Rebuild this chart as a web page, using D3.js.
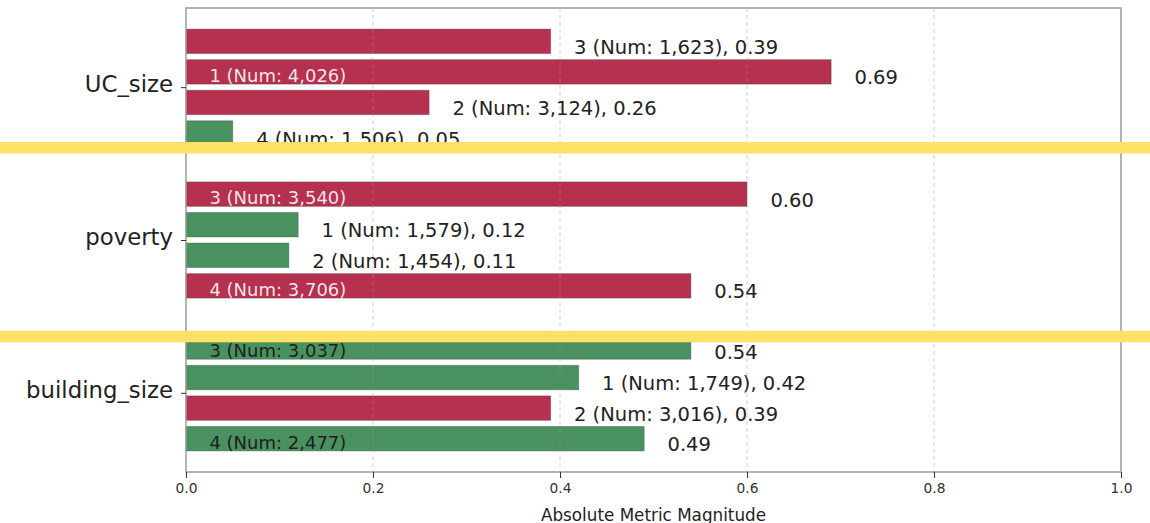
<!DOCTYPE html>
<html>
<head>
<meta charset="utf-8">
<script src="https://cdn.jsdelivr.net/npm/d3@7"></script>
<style>
  body { margin: 0; background: #fff; }
  text { font-family: "DejaVu Sans", sans-serif; }
</style>
</head>
<body>
<svg id="chart" width="1150" height="523"></svg>
<script>
// Features shown as groups, top to bottom
const features = ["UC_size", "poverty", "building_size"];
// Cluster ids of the four bars in each group (top to bottom)
const clusterIds = [[3, 1, 2, 4], [3, 1, 2, 4], [3, 1, 2, 4]];
// Number of members per cluster
const clusterCounts = [[1623, 4026, 3124, 1506], [3540, 1579, 1454, 3706], [3037, 1749, 3016, 2477]];
// Absolute metric magnitude per bar
const magnitudes = [[0.39, 0.69, 0.26, 0.05], [0.60, 0.12, 0.11, 0.54], [0.54, 0.42, 0.39, 0.49]];
// Sign of the underlying metric (neg = red, pos = green)
const signs = [["neg", "neg", "neg", "pos"], ["neg", "pos", "pos", "neg"], ["pos", "pos", "neg", "pos"]];
// X axis ticks
const xTicks = [0, 0.2, 0.4, 0.6, 0.8, 1.0];
// Highlight bands across the figure (in y data units)
const highlightBands = [0.395, 1.63];

const W = 1150, H = 523;
const margin = { left: 186, right: 29, top: 8, bottom: 51 };
const svg = d3.select("#chart");

const x = d3.scaleLinear().domain([0, 1]).range([margin.left, W - margin.right]);
const barStep = 0.2, barH = 0.16;
const y = d3.scaleLinear().domain([-0.518, 2.518]).range([margin.top, H - margin.bottom]);

const colors = { neg: "#b5314f", pos: "#4a9160" };
const insideText = { neg: "rgba(255,255,255,0.88)", pos: "#1e1e1e" };
const fmt = d3.format(",");

// flatten rows
const rows = [];
features.forEach((f, gi) => {
  clusterIds[gi].forEach((id, k) => {
    rows.push({
      gi, k, id,
      count: clusterCounts[gi][k],
      v: magnitudes[gi][k],
      sign: signs[gi][k],
      pos: gi + (k - 1.5) * barStep
    });
  });
});

// bars
svg.append("g").selectAll("rect")
  .data(rows)
  .join("rect")
  .attr("x", x(0))
  .attr("y", d => y(d.pos - barH / 2))
  .attr("width", d => x(d.v) - x(0))
  .attr("height", d => y(d.pos + barH / 2) - y(d.pos - barH / 2))
  .attr("fill", d => colors[d.sign])
  .attr("stroke", "rgba(60,60,60,0.35)")
  .attr("stroke-width", 1);

// vertical dashed grid, drawn over the bars
svg.append("g").selectAll("line")
  .data(xTicks.filter(t => t > 0 && t < 1))
  .join("line")
  .attr("x1", d => x(d)).attr("x2", d => x(d))
  .attr("y1", y.range()[0]).attr("y2", y.range()[1])
  .attr("stroke", "rgba(150,150,150,0.45)").attr("stroke-width", 1)
  .attr("stroke-dasharray", "4,3");

const labels = svg.append("g");
const insideThreshold = 0.45;
rows.forEach(d => {
  const cy = y(d.pos);
  if (d.v > insideThreshold) {
    labels.append("text")
      .attr("x", x(0.025)).attr("y", cy + 10)
      .attr("font-size", 18)
      .attr("fill", insideText[d.sign])
      .text(`${d.id} (Num: ${fmt(d.count)})`);
    labels.append("text")
      .attr("x", x(d.v + 0.025)).attr("y", cy + 12.5)
      .attr("font-size", 19.5)
      .attr("fill", "#222")
      .text(d.v.toFixed(2));
  } else {
    labels.append("text")
      .attr("x", x(d.v + 0.025)).attr("y", cy + 12.5)
      .attr("font-size", 19.5)
      .attr("fill", "#222")
      .text(`${d.id} (Num: ${fmt(d.count)}), ${d.v.toFixed(2)}`);
  }
});

// frame
svg.append("rect")
  .attr("x", x(0)).attr("y", y.range()[0])
  .attr("width", x(1) - x(0)).attr("height", y.range()[1] - y.range()[0])
  .attr("fill", "none").attr("stroke", "#9a9a9a").attr("stroke-width", 1.5);

// x axis
const xAxis = svg.append("g")
  .attr("transform", `translate(0,${y.range()[1]})`)
  .call(d3.axisBottom(x).tickValues(xTicks).tickFormat(d3.format(".1f")).tickSize(6).tickPadding(5));
xAxis.select(".domain").remove();
xAxis.selectAll(".tick line").attr("stroke", "#333").attr("stroke-width", 1);
xAxis.selectAll(".tick text")
  .attr("font-family", "DejaVu Sans").attr("font-size", 13.8).attr("fill", "#333");

// y axis
const yAxis = svg.append("g")
  .attr("transform", `translate(${x(0)},0)`)
  .call(d3.axisLeft(y).tickValues(features.map((_, i) => i)).tickFormat(i => features[i]).tickSize(5).tickPadding(8));
yAxis.select(".domain").remove();
yAxis.selectAll(".tick line").attr("stroke", "#333").attr("stroke-width", 1);
yAxis.selectAll(".tick text")
  .attr("font-family", "DejaVu Sans").attr("font-size", 22.8).attr("fill", "#222")
  .attr("dy", "0.2em");

// x axis title
svg.append("text")
  .attr("x", (x(0) + x(1)) / 2).attr("y", 520.5)
  .attr("text-anchor", "middle")
  .attr("font-size", 16.8).attr("fill", "#222")
  .text("Absolute Metric Magnitude");

// highlight bands across the full width
svg.append("g").selectAll("rect")
  .data(highlightBands)
  .join("rect")
  .attr("x", 0).attr("width", W)
  .attr("y", d => y(d) - 5.5).attr("height", 11.5)
  .attr("fill", "#ffe066");
</script>
</body>
</html>
